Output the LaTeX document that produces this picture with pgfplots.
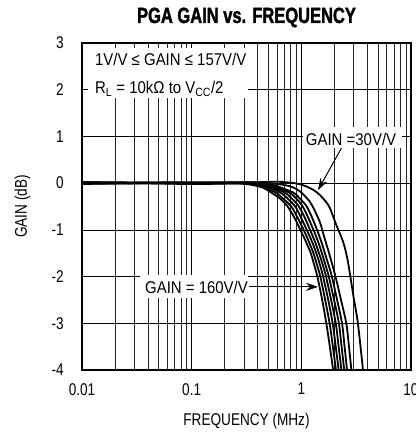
\documentclass[border=0pt]{standalone}
\usepackage{pgfplots}
\pgfplotsset{compat=1.18}
\usetikzlibrary{arrows.meta}
\usepackage{fontspec}
\setmainfont{Liberation Sans}[FakeStretch=0.8]
\newfontfamily\annfont{Liberation Sans}[FakeStretch=0.88]
\newfontfamily\titlefont{Liberation Sans}[FakeStretch=0.75,FakeBold=1.5]
\tikzset{crv/.style={black, solid, line width=1.8pt, smooth, mark=none}}
\begin{document}
\begin{tikzpicture}
\useasboundingbox (-82pt,-65pt) rectangle (333pt,370pt);
\begin{axis}[
  at={(0,0)}, anchor=south west,
  scale only axis, width=329pt, height=327pt,
  xmode=log, xmin=0.01, xmax=10, ymin=-4, ymax=3,
  xtick={0.01,0.1,1,10}, xticklabels={0.01,0.1,1,10},
  minor xtick={0.02,0.03,0.04,0.05,0.06,0.07,0.08,0.09,0.2,0.3,0.4,0.5,0.6,0.7,0.8,0.9,2,3,4,5,6,7,8,9},
  ytick={-4,-3,-2,-1,0,1,2,3}, yticklabels={-4,-3,-2,-1,0,1,2,3},
  /pgf/number format/assume math mode=true,
  grid=both,
  major grid style={black, line width=0.6pt},
  minor grid style={black!85, line width=0.6pt},
  major tick length=0pt, minor tick length=0pt,
  axis line style={line width=2.2pt},
  tick label style={font=\fontsize{17}{20}\selectfont, inner sep=0pt},
  every x tick label/.append style={anchor=north, yshift=-13pt},
  every y tick label/.append style={anchor=east, xshift=-18pt},
  clip mode=individual,
]
% white label backgrounds
\fill[white] (axis cs:0.01135,1.82) rectangle (axis cs:0.325,2.89);
\fill[white] (axis cs:1.03,0.75) rectangle (axis cs:8.2,1.2);
\fill[white] (axis cs:0.0337,-2.46) rectangle (axis cs:0.325,-1.97);
% A 160V/V
\addplot[crv] coordinates {(0.01,-0.02)(0.03,0.0)(0.1,-0.02)(0.2,-0.01)(0.28,-0.01)(0.36,-0.04)(0.45,-0.1)(0.53,-0.2)(0.64,-0.33)(0.75,-0.5)(0.87,-0.75)(0.98,-1.0)(1.1,-1.25)(1.22,-1.5)(1.31,-1.75)(1.40,-2.0)(1.55,-2.5)(1.69,-3.0)(1.82,-3.5)(1.95,-4.0)};
% B
\addplot[crv] coordinates {(0.01,0.0)(0.1,-0.01)(0.3,-0.01)(0.4,-0.05)(0.58,-0.2)(0.68,-0.33)(0.81,-0.5)(0.93,-0.75)(1.05,-1.0)(1.17,-1.25)(1.29,-1.5)(1.39,-1.75)(1.49,-2.0)(1.65,-2.5)(1.81,-3.0)(1.94,-3.5)(2.07,-4.0)};
% C
\addplot[crv] coordinates {(0.01,0.01)(0.1,0.0)(0.32,0.0)(0.44,-0.05)(0.64,-0.2)(0.75,-0.33)(0.88,-0.5)(1.0,-0.75)(1.12,-1.0)(1.25,-1.25)(1.37,-1.5)(1.48,-1.75)(1.58,-2.0)(1.76,-2.5)(1.93,-3.0)(2.06,-3.5)(2.19,-4.0)};
% D
\addplot[crv] coordinates {(0.01,-0.01)(0.1,0.01)(0.35,0.0)(0.48,-0.05)(0.70,-0.2)(0.82,-0.33)(0.95,-0.5)(1.08,-0.75)(1.20,-1.0)(1.33,-1.25)(1.45,-1.5)(1.57,-1.75)(1.68,-2.0)(1.87,-2.5)(2.06,-3.0)(2.19,-3.5)(2.32,-4.0)};
% E
\addplot[crv] coordinates {(0.01,0.02)(0.1,0.0)(0.38,0.01)(0.52,-0.05)(0.77,-0.2)(0.90,-0.33)(1.03,-0.5)(1.16,-0.75)(1.29,-1.0)(1.42,-1.25)(1.54,-1.5)(1.66,-1.75)(1.78,-2.0)(1.99,-2.5)(2.20,-3.0)(2.33,-3.5)(2.46,-4.0)};
% F
\addplot[crv] coordinates {(0.01,0.0)(0.1,0.02)(0.42,0.01)(0.57,-0.05)(0.84,-0.2)(0.97,-0.33)(1.12,-0.5)(1.26,-0.75)(1.39,-1.0)(1.52,-1.25)(1.64,-1.5)(1.77,-1.75)(1.90,-2.0)(2.12,-2.5)(2.35,-3.0)(2.48,-3.5)(2.61,-4.0)};
% G
\addplot[crv] coordinates {(0.01,0.02)(0.1,0.01)(0.3,0.01)(0.5,0.0)(0.7,-0.04)(0.84,-0.09)(1.0,-0.2)(1.19,-0.39)(1.27,-0.5)(1.47,-0.82)(1.55,-1.0)(1.63,-1.18)(1.79,-1.5)(2.05,-2.0)(2.3,-2.5)(2.57,-3.0)(2.72,-3.5)(2.86,-4.0)};
% H 30V/V
\addplot[crv] coordinates {(0.01,0.01)(0.02,-0.01)(0.05,0.01)(0.1,0)(0.2,0.01)(0.4,0.02)(0.6,0.03)(0.8,0.01)(1.0,-0.03)(1.11,-0.07)(1.3,-0.15)(1.47,-0.25)(1.65,-0.38)(1.82,-0.53)(2.08,-0.89)(2.4,-1.25)(2.62,-1.6)(2.8,-2.0)(3.0,-2.45)(3.28,-3.0)(3.65,-4.0)};
% annotations
\node[anchor=base west, inner sep=0pt, font=\annfont\fontsize{17}{20}\selectfont] at (axis cs:0.01313,2.51) {1V/V ≤ GAIN ≤ 157V/V};
\node[anchor=base west, inner sep=0pt, font=\annfont\fontsize{17}{20}\selectfont] at (axis cs:0.01313,1.91) {R\textsubscript{L} = 10kΩ to V\textsubscript{CC}/2};
\node[anchor=base west, inner sep=0pt, font=\annfont\fontsize{17}{20}\selectfont] at (axis cs:1.097,0.816) {GAIN =30V/V};
\node[anchor=base west, inner sep=0pt, font=\annfont\fontsize{17}{20}\selectfont] at (axis cs:0.0375,-2.36) {GAIN = 160V/V};
\draw[line width=1pt, -{Stealth[length=12pt,width=8pt]}] (axis cs:2.32,0.75) -- (axis cs:1.42,-0.15);
\draw[line width=1pt, -{Stealth[length=12pt,width=8pt]}] (axis cs:0.33,-2.22) -- (axis cs:1.42,-2.22);
% titles
\node[anchor=base, inner sep=0pt, font=\titlefont\bfseries\fontsize{22}{26}\selectfont] at ([yshift=20pt]rel axis cs:0.5,1) {PGA GAIN vs. FREQUENCY};
\node[anchor=base, inner sep=0pt, font=\fontsize{17}{20}\selectfont] at ([yshift=-55pt]rel axis cs:0.5,0) {FREQUENCY (MHz)};
\node[anchor=base, inner sep=0pt, rotate=90, font=\fontsize{17}{20}\selectfont] at ([xshift=-55pt]rel axis cs:0,0.5) {GAIN (dB)};
\end{axis}
\end{tikzpicture}
\end{document}
